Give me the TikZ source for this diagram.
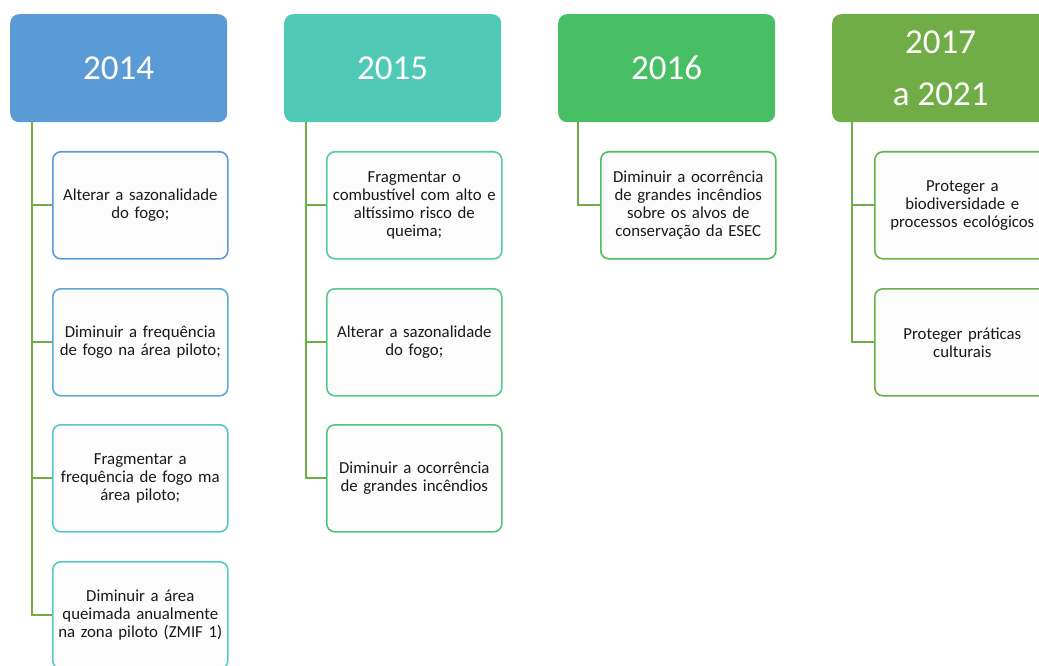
\documentclass[tikz,border=0pt]{standalone}
\usepackage{fontspec}
\setmainfont{Carlito}
\begin{document}
\begin{tikzpicture}[x=1pt,y=-1pt,
  hdr/.style={draw=none, rounded corners=9pt, minimum width=217pt, minimum height=108pt, anchor=north west, text=white, font=\fontsize{35}{52}\selectfont, align=center, inner sep=0pt},
  item/.style={draw=#1, fill=white!99!black, line width=1.6pt, rounded corners=8pt, minimum width=175pt, minimum height=107pt, anchor=north west, text width=172pt, align=center, inner sep=0pt, font=\fontsize{16.8}{18}\selectfont, text=black!90},
  conn/.style={draw=cgreen, line width=1.8pt}]
\definecolor{c14}{HTML}{5B9BD5}
\definecolor{c15}{HTML}{50CAB6}
\definecolor{c16}{HTML}{48BF65}
\definecolor{c17}{HTML}{70AD47}
\definecolor{cgreen}{HTML}{70AD47}
\definecolor{b1}{HTML}{5B9BD5}
\definecolor{b2}{HTML}{5BA9D8}
\definecolor{b3}{HTML}{5AC5D0}
\definecolor{b4}{HTML}{55CCBE}
\definecolor{b5}{HTML}{55CDA6}
\definecolor{b6}{HTML}{52C98F}
\definecolor{b7}{HTML}{4EC67A}
\definecolor{b8}{HTML}{4CC05F}
\definecolor{b9}{HTML}{6DB04A}
\useasboundingbox (0,0) rectangle (1039,666);
\fill[white] (0,0) rectangle (1039,666);
% headers
\node[hdr, fill=c14] (h1) at (10,14) {2014};
\node[hdr, fill=c15] (h2) at (284,14) {2015};
\node[hdr, fill=c16] (h3) at (558,14) {2016};
\node[hdr, fill=c17] (h4) at (832,14) {2017\\a 2021};
% 2014
\node[item=b1] (a1) at (52,151) {Alterar a sazonalidade\\do fogo;};
\node[item=b2] (a2) at (52,288) {Diminuir a frequência\\de fogo na área piloto;};
\node[item=b3] (a3) at (52,424) {Fragmentar a\\frequência de fogo ma\\área piloto;};
\node[item=b4] (a4) at (52,561) {Diminuir a área\\queimada anualmente\\na zona piloto (ZMIF 1)};
% 2015
\node[item=b5] (b1n) at (326,151) {Fragmentar o\\combustível com alto e\\altíssimo risco de\\queima;};
\node[item=b6] (b2n) at (326,288) {Alterar a sazonalidade\\do fogo;};
\node[item=b7] (b3n) at (326,424) {Diminuir a ocorrência\\de grandes incêndios};
% 2016
\node[item=b8] (c1) at (600,151) {Diminuir a ocorrência\\de grandes incêndios\\sobre os alvos de\\conservação da ESEC};
% 2017
\node[item=b9] (d1) at (874,151) {Proteger a\\biodiversidade e\\processos ecológicos};
\node[item=b9] (d2) at (874,288) {Proteger práticas\\culturais};
% connectors
\coordinate (v1) at (32,122);
\coordinate (v2) at (306,122);
\coordinate (v3) at (578,122);
\coordinate (v4) at (852,122);
\draw[conn] (v1) |- (a4.west);
\draw[conn] (v1) |- (a1.west);
\draw[conn] (v1) |- (a2.west);
\draw[conn] (v1) |- (a3.west);
\draw[conn] (v2) |- (b3n.west);
\draw[conn] (v2) |- (b1n.west);
\draw[conn] (v2) |- (b2n.west);
\draw[conn] (v3) |- (c1.west);
\draw[conn] (v4) |- (d2.west);
\draw[conn] (v4) |- (d1.west);
\end{tikzpicture}
\end{document}
